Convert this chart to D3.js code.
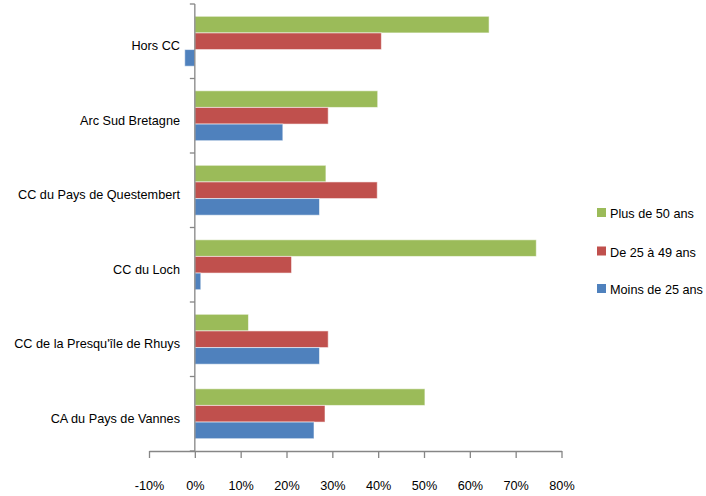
<!DOCTYPE html>
<html><head><meta charset="utf-8">
<script src="https://cdn.jsdelivr.net/npm/d3@7"></script>
<style>
body{margin:0;background:#fff;}
text{font-family:"Liberation Sans",Arial,sans-serif;fill:#000;}
</style></head>
<body><svg id="c" width="706" height="496"></svg>
<script>
const categories = ["Hors CC","Arc Sud Bretagne","CC du Pays de Questembert","CC du Loch","CC de la Presqu'île de Rhuys","CA du Pays de Vannes"];
const seriesNames = ["Plus de 50 ans","De 25 à 49 ans","Moins de 25 ans"];
const plus50 = [64.2, 39.9, 28.6, 74.5, 11.7, 50.2];
const de25a49 = [40.7, 29.1, 39.8, 21.1, 29.1, 28.4];
const moins25 = [-2.2, 19.2, 27.2, 1.3, 27.2, 26.0];
const tickValues = [-10,0,10,20,30,40,50,60,70,80];
const colors = ["#9BBB59","#C0504D","#4F81BD"];

const seriesValues = [plus50, de25a49, moins25];
const svg = d3.select("#c");
const x = d3.scaleLinear().domain([-10,80]).range([149,561.5]);
const y = d3.scaleBand().domain(categories).range([4,451]).paddingInner(0.33).paddingOuter(0.165);
const y1 = d3.scaleBand().domain(seriesNames).range([0,y.bandwidth()]);
const FS = 13.5;

// compression factor to mimic a narrow (Calibri-like) font
const probe = svg.append("text").attr("font-size",FS).text("Arc Sud Bretagne");
const K = 100 / probe.node().getComputedTextLength();
probe.remove();
function narrow(sel){
  sel.each(function(){
    const w = this.getComputedTextLength();
    d3.select(this).attr("textLength", w*K).attr("lengthAdjust","spacingAndGlyphs");
  });
}

// bars
categories.forEach((c,i)=>{
  seriesNames.forEach((s,j)=>{
    const v = seriesValues[j][i];
    svg.append("rect")
      .attr("x", x(Math.min(0,v)))
      .attr("y", y(c)+y1(s))
      .attr("width", Math.abs(x(v)-x(0)))
      .attr("height", y1.bandwidth())
      .attr("fill", colors[j])
      .attr("stroke","#ffffff").attr("stroke-opacity",0.55).attr("stroke-width",1);
  });
});

// y axis
const axisColor = "#868686";
svg.append("line").attr("x1",x(0)).attr("x2",x(0)).attr("y1",4).attr("y2",451).attr("stroke",axisColor).attr("stroke-width",1.3);
const bounds = [4].concat(categories.map(c=>y(c)+y.bandwidth()+y.step()*y.paddingInner()/2));
bounds.forEach(b=>{
  svg.append("line").attr("x1",x(0)-5).attr("x2",x(0)).attr("y1",b).attr("y2",b).attr("stroke",axisColor).attr("stroke-width",1.3);
});
categories.forEach(c=>{
  svg.append("text").attr("x",180).attr("y",y(c)+y.bandwidth()/2+4.5).attr("dy","0.35em")
    .attr("text-anchor","end").attr("font-size",FS).text(c).call(narrow);
});

// x axis
const xAxis = d3.axisBottom(x).tickValues(tickValues).tickSize(7).tickSizeOuter(0).tickFormat(d=>d+"%");
const gx = svg.append("g").attr("transform","translate(0,451)").call(xAxis);
gx.select(".domain").attr("stroke",axisColor).attr("stroke-width",1.3);
gx.selectAll(".tick line").attr("stroke",axisColor).attr("stroke-width",1.3);
gx.selectAll(".tick text").attr("y",34).attr("dy","0.35em").attr("font-size",FS)
  .style("font-family",'"Liberation Sans",Arial,sans-serif').attr("fill","#000").call(narrow);

// legend
const legY = [212.5,251,288.5];
seriesNames.forEach((s,j)=>{
  svg.append("rect").attr("x",597).attr("y",legY[j]-4.5).attr("width",9).attr("height",9).attr("fill",colors[j]);
  svg.append("text").attr("x",610).attr("y",legY[j]+1).attr("dy","0.35em").attr("font-size",FS).text(s).call(narrow);
});
</script></body></html>
